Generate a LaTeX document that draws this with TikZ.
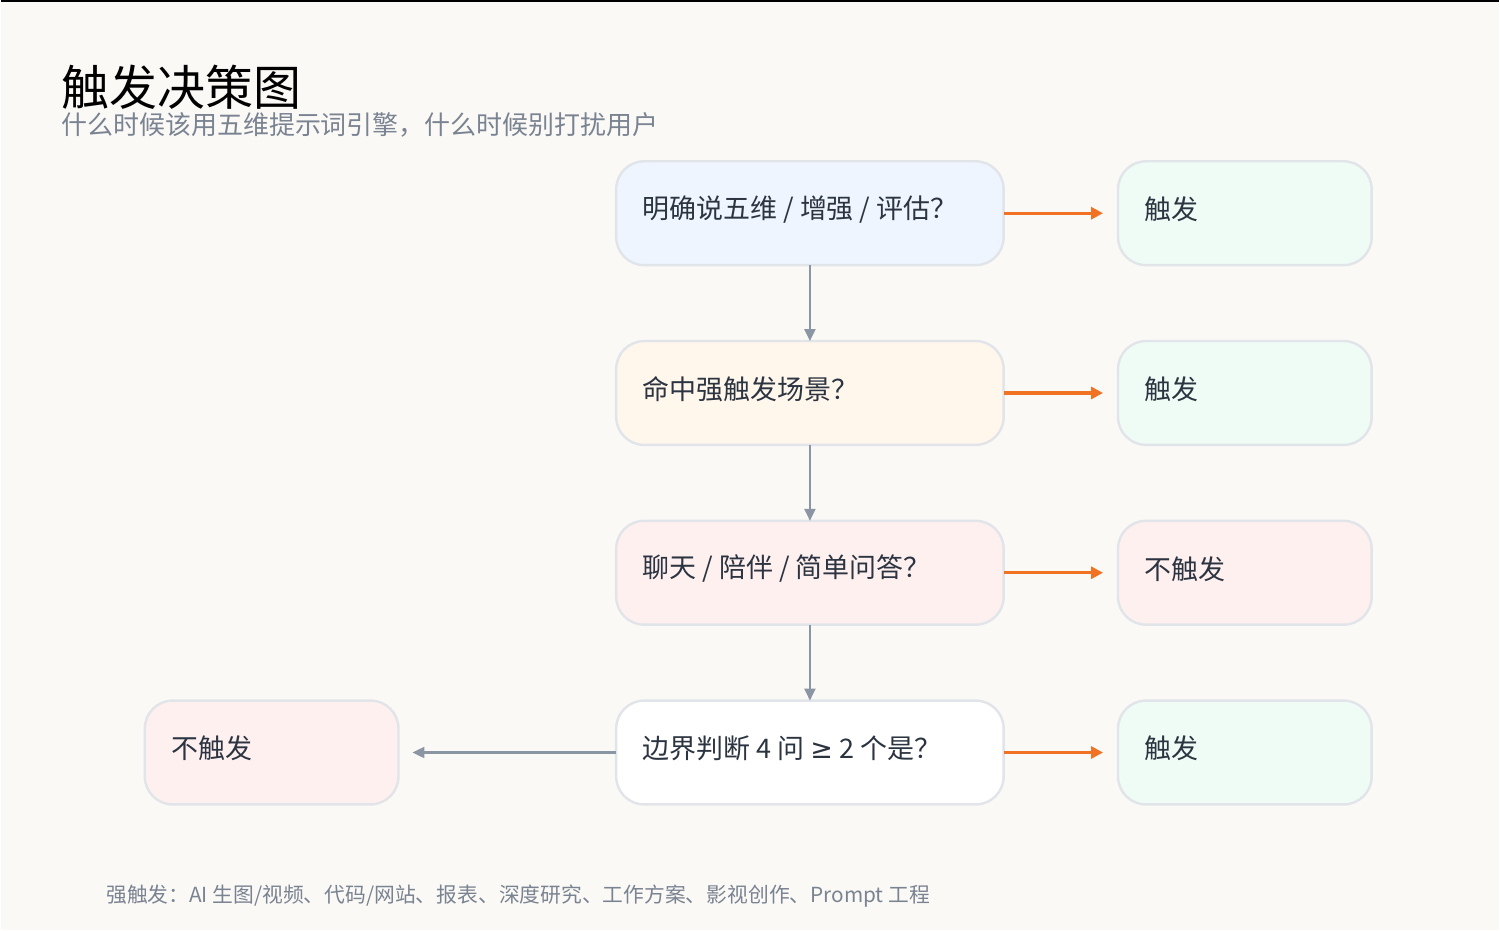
\documentclass[tikz,border=0pt]{standalone}
\usepackage{fontspec}
\setmainfont{Noto Sans CJK SC}
\newfontfamily\symf{DejaVu Sans}
\usetikzlibrary{arrows.meta}
\definecolor{bg}{HTML}{FAF9F6}
\definecolor{bd}{HTML}{E1E4E9}
\definecolor{tx}{HTML}{2B3440}
\definecolor{sub}{HTML}{7A8391}
\definecolor{og}{HTML}{F07222}
\definecolor{gy}{HTML}{8C95A3}
\definecolor{fb}{HTML}{EEF5FF}
\definecolor{fo}{HTML}{FFF6EC}
\definecolor{fr}{HTML}{FFF0F0}
\definecolor{fg}{HTML}{EEFCF5}
\begin{document}
\begin{tikzpicture}[x=0.5pt,y=-0.5pt,
 box/.style={draw=bd,line width=1.2pt,rounded corners=14pt,minimum height=52pt,inner sep=0pt,outer sep=0pt},
 lab/.style={anchor=west,font=\fontsize{13.5}{16}\selectfont,text=tx,inner sep=0pt},
 oarr/.style={draw=og,line width=1.6pt,-{Triangle[length=6pt,width=6pt]}},
 garr/.style={draw=gy,line width=1.1pt,-{Triangle[length=6pt,width=5.5pt]}}]
\fill[bg] (0,0) rectangle (1500,931);
\draw[black,line width=1pt] (0,0.5) -- (1500,0.5);
\node[anchor=west,inner sep=0pt,font=\fontsize{24}{28}\selectfont,text=black] (title) at (60,87) {触发决策图};
\node[anchor=west,inner sep=0pt,font=\fontsize{13}{15}\selectfont,text=sub] (subt) at (60,125) {什么时候该用五维提示词引擎，什么时候别打扰用户};
\foreach \n/\y/\f in {q1/213/fb,q2/393/fo,q3/573/fr,q4/753/white}
  \node[box,fill=\f,minimum width=194pt] (\n) at (810,\y) {};
\foreach \n/\y/\f in {r1/213/fg,r2/393/fg,r3/573/fr,r4/753/fg}
  \node[box,fill=\f,minimum width=127pt] (\n) at (1245.5,\y) {};
\node[box,fill=fr,minimum width=127pt] (l4) at (271,753) {};
\node[lab] at (642,209) {明确说五维 / 增强 / 评估？};
\node[lab] at (642,389) {命中强触发场景？};
\node[lab] at (642,569) {聊天 / 陪伴 / 简单问答？};
\node[lab] at (642,749) {边界判断 4 问 {\symf ≥} 2 个是？};
\node[lab] at (1145,209) {触发};
\node[lab] at (1145,389) {触发};
\node[lab] at (1145,569) {不触发};
\node[lab] at (1145,749) {触发};
\node[lab] at (170,749) {不触发};
\foreach \a/\b in {q1/r1,q2/r2,q3/r3,q4/r4}
  \draw[oarr] (\a.east) -- ([xshift=-7.5pt]\b.west);
\foreach \a/\b in {q1/q2,q2/q3,q3/q4}
  \draw[garr] (\a.south) -- (\b.north);
\draw[garr] (q4.west) -- ([xshift=7pt]l4.east);
\node[anchor=west,inner sep=0pt,font=\fontsize{10.4}{13}\selectfont,text=sub] (foot) at (105,897) {强触发：AI 生图/视频、代码/网站、报表、深度研究、工作方案、影视创作、Prompt 工程};
\end{tikzpicture}
\end{document}
